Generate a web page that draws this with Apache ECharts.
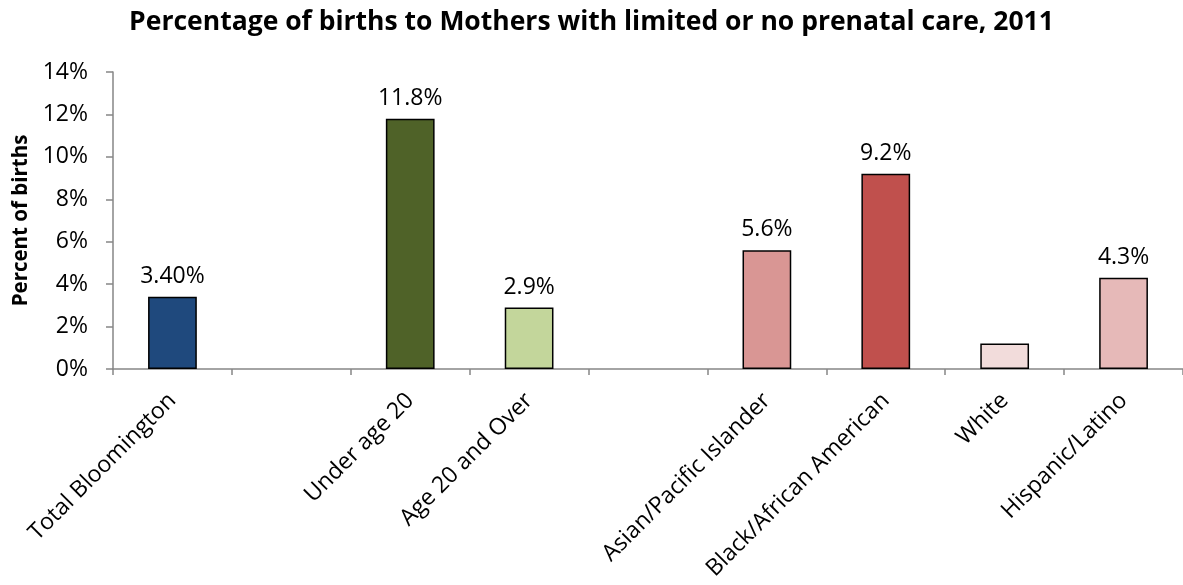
<!DOCTYPE html>
<html>
<head>
<meta charset="utf-8">
<script src="https://cdn.jsdelivr.net/npm/echarts@6/dist/echarts.min.js"></script>
<style>
  html, body { margin: 0; padding: 0; background: #fff; }
  #main { width: 1183px; height: 585px; }
</style>
</head>
<body>
<div id="main"></div>
<script>
// categories (blank entries are the gaps between groups)
const categories = ['Total Bloomington', '', 'Under age 20', 'Age 20 and Over', '',
  'Asian/Pacific Islander', 'Black/African American', 'White', 'Hispanic/Latino'];
const values = [3.4, null, 11.8, 2.9, null, 5.6, 9.2, 1.2, 4.3];
const valueLabels = ['3.40%', '', '11.8%', '2.9%', '', '5.6%', '9.2%', '', '4.3%'];
const barColors = ['#1F497D', '#ffffff', '#4F6228', '#C3D69B', '#ffffff',
  '#D99694', '#C0504D', '#F2DCDB', '#E6B9B8'];

const font = '"Open Sans", "Noto Sans", sans-serif';

let chartDom = document.getElementById('main');
let myChart = echarts.init(chartDom);
let option;

option = {
  backgroundColor: '#ffffff',
  animation: false,
  title: {
    text: 'Percentage of births to Mothers with limited or no prenatal care, 2011',
    left: 'center',
    top: 4,
    textStyle: {
      fontFamily: font,
      fontSize: 26.5,
      fontWeight: 'bold',
      color: '#000'
    }
  },
  grid: {
    left: 113,
    top: 72,
    width: 1077,
    height: 297,
    containLabel: false
  },
  xAxis: {
    type: 'category',
    data: categories,
    axisLine: { lineStyle: { color: '#868686', width: 1.5 } },
    axisTick: { show: true, length: 6, alignWithLabel: false, lineStyle: { color: '#868686', width: 1.5 } },
    axisLabel: {
      interval: 0,
      rotate: 45,
      margin: 28,
      fontFamily: font,
      fontSize: 23,
      color: '#000'
    }
  },
  yAxis: {
    type: 'value',
    min: 0,
    max: 14,
    interval: 2,
    name: 'Percent of births',
    nameLocation: 'middle',
    nameGap: 74,
    nameTextStyle: {
      fontFamily: font,
      fontSize: 20.5,
      fontWeight: 'bold',
      color: '#000'
    },
    splitLine: { show: false },
    axisLine: { show: true, lineStyle: { color: '#868686', width: 1.5 } },
    axisTick: { show: true, length: 7, lineStyle: { color: '#868686', width: 1.5 } },
    axisLabel: {
      formatter: '{value}%',
      margin: 25,
      fontFamily: font,
      fontSize: 23,
      color: '#000'
    }
  },
  series: [
    {
      type: 'bar',
      barWidth: '41%',
      data: values.map(function (v, i) {
        return {
          value: v,
          itemStyle: { color: barColors[i] }
        };
      }),
      itemStyle: {
        borderColor: '#000',
        borderWidth: 1.5
      },
      label: {
        show: true,
        position: 'top',
        distance: 9,
        fontFamily: font,
        fontSize: 23,
        color: '#000',
        formatter: function (p) {
          return valueLabels[p.dataIndex];
        }
      }
    }
  ]
};

option && myChart.setOption(option);
</script>
</body>
</html>
